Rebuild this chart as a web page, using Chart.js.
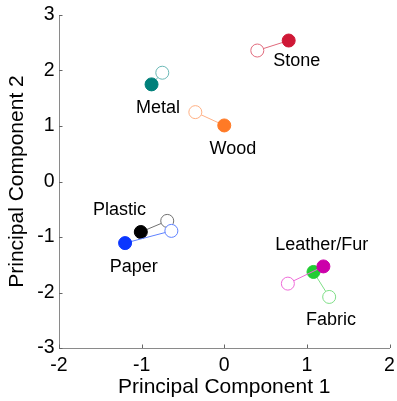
<!DOCTYPE html>
<html>
<head>
<meta charset="utf-8">
<script src="https://cdn.jsdelivr.net/npm/chart.js@4.4.0/dist/chart.umd.min.js"></script>
<style>
  html, body { margin: 0; padding: 0; background: #fff; }
  #wrap { width: 397px; height: 401px; }
</style>
</head>
<body>
<div id="wrap"><canvas id="c" width="397" height="401"></canvas></div>
<script>
// Material categories (listed so that later ones are drawn underneath earlier ones)
const materials = ['Stone', 'Metal', 'Wood', 'Paper', 'Plastic', 'Leather/Fur', 'Fabric'];

// Filled marker: first condition; open marker: second condition
const filledX = [0.78, -0.88, 0.00, -1.20, -1.01, 1.20, 1.08];
const filledY = [2.54, 1.75, 1.01, -1.11, -0.91, -1.53, -1.63];
const openX   = [0.40, -0.75, -0.35, -0.64, -0.69, 0.77, 1.27];
const openY   = [2.36, 1.96, 1.25, -0.89, -0.71, -1.84, -2.08];

// Axis tick values
const xTicks = [-2, -1, 0, 1, 2];
const yTicks = [-3, -2, -1, 0, 1, 2, 3];

// Styling
const solidColors = ['#cf1836', '#00807a', '#ff7a26', '#0a36ff', '#000000', '#cc00aa', '#22cc33'];
const lightColors = ['#e06a7c', '#6ab8b6', '#ffb084', '#5f82ff', '#707070', '#ee6ad8', '#7ede86'];
// Label placement relative to the filled marker, in pixels
const labelOffsets = [[8, 21], [6.5, 24], [8.6, 23.6], [8.6, 23.7], [-21.4, -22.3], [-1.6, -21.7], [17.5, 47.7]];

const FONT = '"Liberation Sans", Arial, Helvetica, sans-serif';

const datasets = materials.map((name, i) => ({
  label: name,
  data: [{ x: filledX[i], y: filledY[i] }, { x: openX[i], y: openY[i] }],
  showLine: true,
  borderColor: lightColors[i],
  borderWidth: 1,
  pointRadius: 6.5,
  pointHoverRadius: 6.5,
  pointBorderWidth: 1,
  pointBackgroundColor: [solidColors[i], '#ffffff'],
  pointBorderColor: [solidColors[i], lightColors[i]]
}));

// Short tick marks pointing into the plot area
const innerTicks = {
  id: 'innerTicks',
  afterDatasetsDraw(chart) {
    const { ctx, chartArea: a, scales: { x, y } } = chart;
    ctx.save();
    ctx.strokeStyle = '#666';
    ctx.lineWidth = 1;
    ctx.beginPath();
    xTicks.forEach(v => {
      const px = Math.round(x.getPixelForValue(v)) + 0.5;
      ctx.moveTo(px, a.bottom);
      ctx.lineTo(px, a.bottom - 3.5);
    });
    yTicks.forEach(v => {
      const py = Math.round(y.getPixelForValue(v)) + 0.5;
      ctx.moveTo(a.left, py);
      ctx.lineTo(a.left + 3.5, py);
    });
    ctx.stroke();
    ctx.restore();
  }
};

// Material names beside their filled markers
const materialLabels = {
  id: 'materialLabels',
  afterDatasetsDraw(chart) {
    const { ctx } = chart;
    ctx.save();
    ctx.font = '18px ' + FONT;
    ctx.fillStyle = '#000';
    ctx.textAlign = 'center';
    ctx.textBaseline = 'middle';
    materials.forEach((name, i) => {
      const pt = chart.getDatasetMeta(i).data[0];
      ctx.fillText(name, pt.x + labelOffsets[i][0], pt.y + labelOffsets[i][1]);
    });
    ctx.restore();
  }
};

new Chart(document.getElementById('c'), {
  type: 'scatter',
  data: { datasets },
  options: {
    responsive: false,
    animation: false,
    devicePixelRatio: 1,
    layout: { padding: { top: 15, right: 3.5, left: 0, bottom: 0 } },
    plugins: {
      legend: { display: false },
      tooltip: { enabled: false }
    },
    scales: {
      x: {
        type: 'linear',
        min: -2, max: 2,
        afterBuildTicks: s => { s.ticks = xTicks.map(v => ({ value: v })); },
        afterFit: s => { s.height = 53; s.paddingLeft = 0; s.paddingRight = 0; },
        grid: { display: true, drawOnChartArea: false, drawTicks: false },
        border: { display: true, color: '#8a8a8a', width: 1 },
        ticks: { color: '#000', padding: 6, font: { family: FONT, size: 19.5 } },
        title: {
          display: true, text: 'Principal Component 1', color: '#000',
          font: { family: FONT, size: 21 }, padding: { top: 0, bottom: 1 }
        }
      },
      y: {
        type: 'linear',
        min: -3, max: 3,
        afterBuildTicks: s => { s.ticks = yTicks.map(v => ({ value: v })); },
        afterFit: s => { s.width = 59; s.paddingTop = 0; s.paddingBottom = 0; },
        grid: { display: true, drawOnChartArea: false, drawTicks: false },
        border: { display: true, color: '#8a8a8a', width: 1 },
        ticks: { color: '#000', padding: 4.5, font: { family: FONT, size: 19.5 } },
        title: {
          display: true, text: 'Principal Component 2', color: '#000',
          font: { family: FONT, size: 21 }, padding: { top: 5, bottom: 0 }
        }
      }
    }
  },
  plugins: [innerTicks, materialLabels]
});
</script>
</body>
</html>
